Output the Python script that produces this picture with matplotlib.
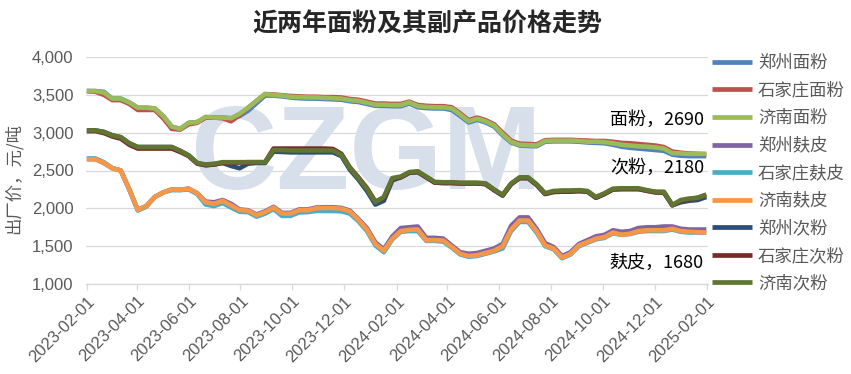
import matplotlib
matplotlib.use("Agg")
import matplotlib.pyplot as plt
import matplotlib.dates as mdates
import matplotlib.ticker as mticker
import pandas as pd

# ---------------- data (10-day sampling, 2023-02-01 .. 2025-01-31) ----------------
dates = pd.date_range("2023-02-01", periods=74, freq="10D")

flour_zz = [3550,3550,3540,3450,3450,3400,3330,3330,3320,3220,
            3080,3050,3130,3140,3200,3200,3200,3190,3220,3290,
            3390,3490,3490,3480,3465,3455,3450,3450,3445,3440,
            3435,3415,3405,3380,3355,3355,3350,3350,3385,3335,
            3325,3320,3320,3300,3220,3135,3170,3135,3080,2965,
            2870,2830,2825,2820,2880,2885,2885,2885,2880,2870,
            2865,2860,2840,2815,2800,2790,2780,2770,2760,2710,
            2695,2690,2690,2690]
flour_sjz = [3550,3540,3500,3430,3430,3380,3300,3300,3300,3190,
             3050,3040,3110,3130,3200,3200,3190,3150,3230,3330,
             3420,3510,3505,3495,3485,3480,3475,3475,3470,3470,
             3465,3445,3435,3410,3385,3385,3380,3380,3410,3365,
             3355,3350,3350,3335,3255,3165,3200,3165,3110,3000,
             2895,2855,2850,2845,2900,2905,2905,2905,2900,2895,
             2890,2890,2880,2865,2860,2850,2840,2830,2810,2750,
             2735,2725,2720,2715]
flour_jn = [3550,3550,3530,3450,3450,3400,3330,3330,3320,3220,
            3080,3050,3130,3140,3210,3200,3200,3190,3250,3330,
            3420,3510,3500,3490,3475,3470,3465,3465,3460,3455,
            3450,3430,3420,3395,3370,3370,3365,3365,3400,3350,
            3340,3335,3335,3320,3240,3150,3185,3150,3095,2980,
            2880,2840,2835,2830,2890,2895,2895,2895,2890,2880,
            2880,2875,2860,2840,2830,2820,2815,2805,2790,2730,
            2725,2720,2720,2720]

bran_zz = [2650,2650,2600,2530,2500,2250,1980,2030,2150,2210,
           2250,2245,2260,2200,2090,2080,2110,2060,1985,1975,
           1920,1960,2020,1940,1940,1985,1985,2010,2015,2015,
           2005,1970,1860,1740,1550,1460,1630,1740,1750,1760,
           1610,1610,1600,1510,1420,1400,1410,1440,1470,1530,
           1770,1880,1880,1730,1540,1490,1370,1420,1530,1580,
           1630,1650,1710,1690,1700,1740,1750,1750,1760,1760,
           1730,1720,1720,1720]
bran_sjz = [2660,2660,2610,2530,2500,2250,1970,2020,2150,2210,
            2240,2240,2250,2190,2050,2030,2070,2010,1955,1950,
            1890,1930,1990,1900,1900,1945,1950,1965,1965,1965,
            1960,1930,1830,1700,1510,1420,1590,1690,1700,1700,
            1570,1570,1560,1480,1390,1360,1370,1400,1430,1470,
            1700,1820,1820,1680,1500,1460,1340,1390,1500,1545,
            1590,1610,1670,1650,1660,1690,1700,1700,1700,1720,
            1690,1680,1680,1680]
bran_jn = [2650,2650,2600,2530,2500,2250,1980,2030,2150,2210,
           2250,2245,2260,2200,2080,2060,2100,2040,1975,1970,
           1910,1950,2010,1930,1930,1975,1975,2000,2005,2005,
           1995,1960,1850,1720,1530,1440,1600,1700,1715,1720,
           1580,1580,1575,1490,1400,1370,1380,1410,1440,1500,
           1720,1840,1840,1700,1510,1470,1350,1400,1510,1555,
           1600,1620,1680,1650,1665,1700,1710,1710,1710,1730,
           1700,1690,1685,1680]

sec_zz = [3030,3030,3010,2965,2940,2860,2810,2810,2810,2810,
          2810,2760,2700,2600,2570,2580,2600,2560,2530,2590,
          2600,2600,2750,2745,2740,2740,2740,2740,2740,2740,
          2690,2510,2380,2230,2050,2100,2370,2410,2470,2480,
          2410,2340,2335,2335,2330,2330,2330,2320,2240,2170,
          2320,2400,2400,2310,2190,2220,2230,2230,2235,2220,
          2140,2190,2250,2255,2255,2255,2235,2215,2210,2040,
          2080,2100,2110,2150]
sec_sjz = [3020,3020,2995,2950,2920,2840,2790,2790,2790,2790,
           2790,2745,2690,2590,2570,2580,2600,2600,2605,2610,
           2610,2610,2790,2790,2790,2790,2790,2790,2790,2785,
           2720,2540,2410,2270,2090,2140,2390,2410,2470,2480,
           2410,2340,2335,2335,2330,2330,2330,2320,2240,2170,
           2320,2400,2400,2310,2190,2215,2220,2220,2225,2220,
           2140,2190,2250,2255,2255,2255,2230,2210,2210,2040,
           2100,2120,2140,2180]
sec_jn = [3030,3030,3010,2965,2940,2860,2810,2810,2810,2810,
          2810,2760,2700,2600,2580,2590,2610,2610,2610,2610,
          2610,2610,2770,2770,2765,2765,2765,2765,2765,2765,
          2705,2530,2400,2260,2080,2150,2400,2420,2480,2490,
          2420,2350,2345,2345,2340,2340,2340,2330,2250,2180,
          2330,2410,2410,2320,2200,2230,2235,2235,2240,2230,
          2150,2200,2260,2265,2265,2265,2240,2220,2220,2045,
          2110,2130,2140,2180]

series_names = ["郑州面粉", "石家庄面粉", "济南面粉",
                "郑州麸皮", "石家庄麸皮", "济南麸皮",
                "郑州次粉", "石家庄次粉", "济南次粉"]
series_values = [flour_zz, flour_sjz, flour_jn,
                 bran_zz, bran_sjz, bran_jn,
                 sec_zz, sec_sjz, sec_jn]
series_colors = ["#4F81BD", "#C0504D", "#9BBB59",
                 "#8064A2", "#4BACC6", "#F79646",
                 "#2C4D75", "#772C2A", "#5F7530"]

labels_end = ["面粉，2690", "次粉，2180", "麸皮，1680"]
title = "近两年面粉及其副产品价格走势"
ylabel = "出厂价，元/吨"
watermark = "CZGM"

# ---------------- drawing ----------------
CJK = ["Noto Sans CJK SC", "DejaVu Sans"]
plt.rcParams["font.family"] = CJK

W, H = 851, 374
fig = plt.figure(figsize=(W / 100, H / 100), dpi=100)
ax = fig.add_axes([86 / W, 1 - 284 / H, (708 - 86) / W, (284 - 57) / H])

ax.text(366 / W, 1 - 158 / H, watermark, transform=fig.transFigure,
        ha="center", va="center", fontsize=86, fontweight="bold",
        family="Liberation Sans", color="#D6DFEA", zorder=1)

handles = []
for name, vals, col in zip(series_names, series_values, series_colors):
    ln, = ax.plot(dates, vals, color=col, lw=3.3, label=name, zorder=3,
                  solid_joinstyle="round", solid_capstyle="butt")
    handles.append(ln)

ax.set_ylim(1000, 4000)
ax.set_xlim(pd.Timestamp("2023-01-31"), pd.Timestamp("2025-02-02"))
ax.yaxis.set_major_locator(mticker.MultipleLocator(500))
ax.yaxis.set_major_formatter(mticker.FuncFormatter(lambda v, p: f"{v:,.0f}"))
ax.xaxis.set_major_locator(mdates.MonthLocator(bymonth=[2, 4, 6, 8, 10, 12], bymonthday=1))
ax.xaxis.set_major_formatter(mdates.DateFormatter("%Y-%m-%d"))

ax.grid(axis="y", color="#D9D9D9", lw=0.9, zorder=0)
ax.set_axisbelow(True)
for s in ["top", "right", "left"]:
    ax.spines[s].set_visible(False)
ax.spines["bottom"].set_color("#D9D9D9")
ax.spines["bottom"].set_linewidth(1.0)

ax.tick_params(axis="y", length=0, pad=9, labelsize=12, labelcolor="#595959")
ax.tick_params(axis="x", length=4, width=0.9, color="#D9D9D9", pad=3,
               labelsize=12, labelcolor="#595959")
for lab in ax.get_yticklabels():
    lab.set_family("Liberation Sans")
for lab in ax.get_xticklabels():
    lab.set_family("Liberation Sans")
    lab.set_rotation(45)
    lab.set_ha("right")
    lab.set_rotation_mode("anchor")

fig.text(427 / W, 1 - 24 / H, title, ha="center", va="center",
         fontsize=18, fontweight="bold", color="#262626")
fig.text(13 / W, 1 - 178 / H, ylabel, rotation=90, ha="center", va="center",
         fontsize=12.5, color="#595959")

for txt, yp in zip(labels_end, [120, 168, 263]):
    fig.text(704 / W, 1 - yp / H, txt, ha="right", va="center",
             fontsize=13, color="#000000")

leg = fig.legend(handles=handles, loc="upper left",
                 bbox_to_anchor=(712 / W, 1 - 54 / H), frameon=False,
                 fontsize=12.5, handlelength=2.3, handletextpad=0.35,
                 labelspacing=0.55, borderpad=0, borderaxespad=0)
for t in leg.get_texts():
    t.set_color("#595959")
for lh in leg.legend_handles:
    lh.set_linewidth(3.4)

fig.savefig("out.png", dpi=100)
